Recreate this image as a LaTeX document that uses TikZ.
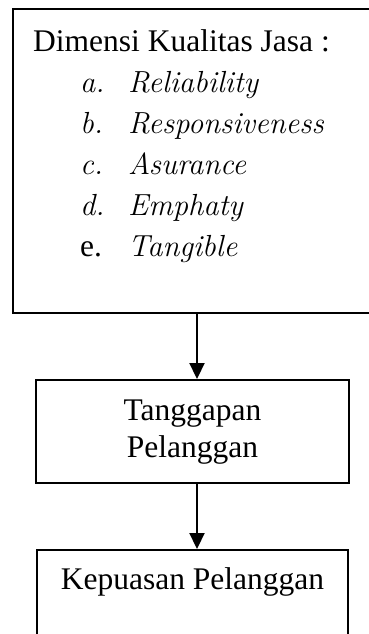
\documentclass[tikz,border=0pt]{standalone}
\usepackage{fontspec}
\setmainfont{Liberation Serif}
\usetikzlibrary{arrows.meta,positioning}
\tikzset{
  kotak/.style={draw, line width=2.2pt, inner sep=0pt},
  panah/.style={-{Triangle[length=16pt,width=15pt]}, line width=2.2pt},
}
\newcommand{\miring}[1]{{\fontfamily{lmr}\itshape\fontsize{30.5}{41}\selectfont #1}}
\newcommand{\butir}[2]{\hspace*{47pt}\makebox[48pt][l]{#1}\miring{#2}}

\begin{document}
\begin{tikzpicture}[font=\fontsize{31.5}{41}\selectfont]
  \useasboundingbox (0,0) rectangle (368pt,-634pt);
  % Dimensi kualitas jasa
  \node[kotak, anchor=north west, minimum width=362pt, minimum height=304pt] (dimensi) at (12pt,-8pt) {};
  \node[anchor=north west, align=left, inner sep=0pt] (daftar) at (33pt,-29.5pt) {Dimensi Kualitas Jasa :\\
    \butir{\miring{a.}}{Reliability}\\
    \butir{\miring{b.}}{Responsiveness}\\
    \butir{\miring{c.}}{Asurance}\\
    \butir{\miring{d.}}{Emphaty}\\
    \butir{e.}{Tangible}};

  % Tanggapan pelanggan
  \node[kotak, anchor=north, minimum width=313pt, minimum height=103pt, align=center] (tanggapan) at (192.5pt,-379pt) {Tanggapan\\[-4pt]Pelanggan};

  % Kepuasan pelanggan
  \node[kotak, anchor=north, minimum width=311pt, inner ysep=18pt, text depth=70pt] (kepuasan) at (192.5pt,-549pt) {Kepuasan Pelanggan};

  % Panah
  \draw[panah] ([xshift=4.5pt]tanggapan.north |- dimensi.south) -- ([xshift=4.5pt]tanggapan.north);
  \draw[panah] ([xshift=4.5pt]tanggapan.south) -- ([xshift=4.5pt]kepuasan.north);
\end{tikzpicture}
\end{document}
